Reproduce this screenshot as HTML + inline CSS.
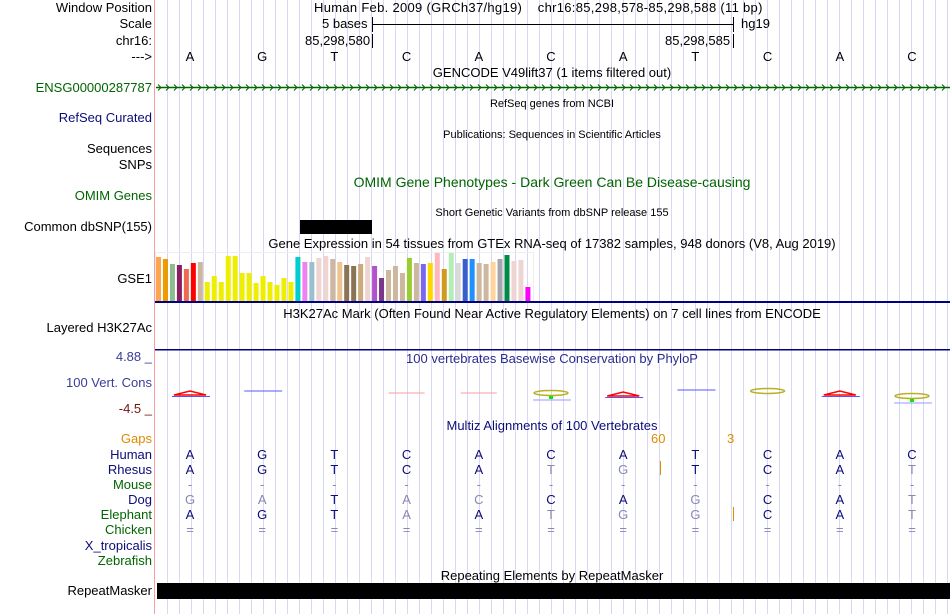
<!DOCTYPE html>
<html><head><meta charset="utf-8"><style>
body{margin:0;width:950px;height:614px;background:#fff;overflow:hidden;font-family:"Liberation Sans",sans-serif;font-size:13px;color:#000}
#root{position:relative;width:950px;height:614px}
.t{position:absolute;white-space:nowrap;line-height:14px}
.l{position:absolute;right:798px;white-space:nowrap;line-height:14px;text-align:right}
.c{transform:translateX(-50%)}
.s{font-size:11px}
svg{position:absolute;left:0;top:0}
</style></head><body>
<div id="root">
<svg id="grid" width="950" height="614"></svg>

<div class="l" style="top:1px">Window Position</div>
<div class="l" style="top:17px">Scale</div>
<div class="l" style="top:34px">chr16:</div>
<div class="l" style="top:50px">---&gt;</div>
<div class="l" style="top:81px;color:#006400">ENSG00000287787</div>
<div class="l" style="top:111px;color:#0c0c78">RefSeq Curated</div>
<div class="l" style="top:142px">Sequences</div>
<div class="l" style="top:158px">SNPs</div>
<div class="l" style="top:189px;color:#006400">OMIM Genes</div>
<div class="l" style="top:220px">Common dbSNP(155)</div>
<div class="l" style="top:272px">GSE1</div>
<div class="l" style="top:321px">Layered H3K27Ac</div>
<div class="l" style="top:350px;color:#3c3c9c">4.88 _</div>
<div class="l" style="top:376px;color:#3c3c9c">100 Vert. Cons</div>
<div class="l" style="top:402px;color:#7a1010">-4.5 _</div>
<div class="l" style="top:432px;color:#e08a00">Gaps</div>
<div class="l" style="top:448px;color:#0c0c78">Human</div>
<div class="l" style="top:463px;color:#0c0c78">Rhesus</div>
<div class="l" style="top:478px;color:#006400">Mouse</div>
<div class="l" style="top:493px;color:#0c0c78">Dog</div>
<div class="l" style="top:508px;color:#006400">Elephant</div>
<div class="l" style="top:523px;color:#006400">Chicken</div>
<div class="l" style="top:539px;color:#0c0c78">X_tropicalis</div>
<div class="l" style="top:554px;color:#006400">Zebrafish</div>
<div class="l" style="top:584px">RepeatMasker</div>

<div class="t" style="left:314px;top:1px;letter-spacing:0.3px">Human Feb. 2009 (GRCh37/hg19)&nbsp;&nbsp;&nbsp; chr16:85,298,578-85,298,588 (11 bp)</div>
<div class="t" style="left:322px;top:17px">5 bases</div>
<div class="t" style="left:741px;top:17px">hg19</div>
<div class="t" style="left:305px;top:34px">85,298,580</div>
<div class="t" style="left:665px;top:34px">85,298,585</div>
<div class="t c" style="left:552px;top:66px">GENCODE V49lift37 (1 items filtered out)</div>
<div class="t c s" style="left:552px;top:97px">RefSeq genes from NCBI</div>
<div class="t c s" style="left:552px;top:128px">Publications: Sequences in Scientific Articles</div>
<div class="t c" style="left:552px;top:175px;color:#006400;font-size:14px">OMIM Gene Phenotypes - Dark Green Can Be Disease-causing</div>
<div class="t c s" style="left:552px;top:206px">Short Genetic Variants from dbSNP release 155</div>
<div class="t c" style="left:552px;top:237px">Gene Expression in 54 tissues from GTEx RNA-seq of 17382 samples, 948 donors (V8, Aug 2019)</div>
<div class="t c" style="left:552px;top:307px">H3K27Ac Mark (Often Found Near Active Regulatory Elements) on 7 cell lines from ENCODE</div>
<div class="t c" style="left:552px;top:352px;color:#2c2c8c">100 vertebrates Basewise Conservation by PhyloP</div>
<div class="t c" style="left:552px;top:419px;color:#0c0c78">Multiz Alignments of 100 Vertebrates</div>
<div class="t c" style="left:552px;top:569px">Repeating Elements by RepeatMasker</div>
<div class="t" style="left:651px;top:432px;color:#e08a00">60</div>
<div class="t" style="left:727px;top:432px;color:#e08a00">3</div>
<div id="bases"></div>

<script>
const bases=["A","G","T","C","A","C","A","T","C","A","C"];
const gtexValues=[44,42,37,36,32,38,39,19,25,19,45,45,28,28,18,25,19,16,23,19,44,39,39,43,45,42,39,36,35,37,44,35,23,31,35,28,43,38,37,38,48,32,49,38,42,42,38,37,39,42,46,40,41,14];
const gtexColors=["#FFA54F","#EE9A00","#8FBC8F","#8B1C62","#EE6A50","#FF0000","#CDB79E","#EEEE00","#EEEE00","#EEEE00","#EEEE00","#EEEE00","#EEEE00","#EEEE00","#EEEE00","#EEEE00","#EEEE00","#EEEE00","#EEEE00","#EEEE00","#00CDCD","#EE82EE","#9AC0CD","#EED5D2","#EED5D2","#CDB79E","#EEC591","#8B7355","#8B7355","#CDAA7D","#EED5D2","#B452CD","#7A378B","#CDB79E","#CDB79E","#CDB79E","#9ACD32","#CDB79E","#7B68EE","#FFD700","#FFB6C1","#CD9B1D","#B4EEB4","#D9D9D9","#3A5FCD","#1E90FF","#CDB79E","#CDB79E","#FFD39B","#A6A6A6","#008B45","#EED5D2","#EED5D2","#FF00FF"];
const rows={Human:"AGTCACATCAC",Rhesus:"AGTCATGTCAT",Mouse:"-----------",Dog:"GATACCAGCAT",Elephant:"AGTAATGGCAT",Chicken:"==========="};
const gray={Rhesus:[5,6,10],Mouse:[0,1,2,3,4,5,6,7,8,9,10],Dog:[0,1,3,4,7,10],Elephant:[3,5,6,7,10],Chicken:[0,1,2,3,4,5,6,7,8,9,10]};
const rowY={Human:448,Rhesus:463,Mouse:478,Dog:493,Elephant:508,Chicken:523};
const x0=155,bw=72.2;
const bx=i=>190+bw*i;
const NS="http://www.w3.org/2000/svg";
const svg=document.getElementById('grid');
function mk(tag,attrs,name){const e=document.createElementNS(NS,tag);for(const k in attrs)e.setAttribute(k,attrs[k]);svg.appendChild(e);return e;}
for(let x=167;x<950;x+=12){const l=mk('line',{x1:x+.5,x2:x+.5,y1:0,y2:614,stroke:'#d8d8f4','stroke-width':1},'grid-line');}
mk('line',{x1:154.5,x2:154.5,y1:0,y2:614,stroke:'#f4a0a0'},'left-border');
mk('line',{x1:372,x2:733,y1:24.5,y2:24.5,stroke:'#000'},'scale-bar');
mk('line',{x1:372.5,x2:372.5,y1:17,y2:32,stroke:'#000'},'scale-tick-left');
mk('line',{x1:733.5,x2:733.5,y1:17,y2:32,stroke:'#000'},'scale-tick-right');
mk('line',{x1:372.5,x2:372.5,y1:34,y2:48,stroke:'#000'},'pos-tick-580');
mk('line',{x1:733.5,x2:733.5,y1:34,y2:48,stroke:'#000'},'pos-tick-585');
mk('line',{x1:156,x2:950,y1:87.5,y2:87.5,stroke:'#006400','stroke-width':1.5},'gene-line');
let d='';for(let x=158;x<950;x+=8){d+=`M${x} 84.5L${x+3} 87.5L${x} 90.5`;}
mk('path',{d:d,stroke:'#006400',fill:'none'},'gene-strand-arrows');
mk('rect',{x:300,y:220,width:72,height:14,fill:'#000'},'dbsnp-variant');
const base=301,scale=1.0;
gtexValues.forEach((v,i)=>{const r=mk('rect',{x:156+i*6.97,y:base-v*scale,width:5,height:v*scale,fill:gtexColors[i]},'gtex-bar');});
mk('rect',{x:155.5,y:252.5,width:378,height:49,fill:'none',stroke:'#eee'},'gtex-frame');
mk('rect',{x:155,y:301,width:795,height:2,fill:'#000080'},'gtex-baseline');
mk('rect',{x:155,y:349,width:795,height:1.5,fill:'#000080'},'h3k27ac-baseline');
mk('rect',{x:157,y:583,width:793,height:16,fill:'#000'},'repeat-element');
mk('line',{x1:660.5,x2:660.5,y1:461,y2:475,stroke:'#e08a00'},'gap-tick-rhesus');
mk('line',{x1:733.5,x2:733.5,y1:507,y2:521,stroke:'#e08a00'},'gap-tick-elephant');
const logos=[[0,'tri'],[1,'blue'],[3,'red'],[4,'red'],[5,'ring'],[6,'tri'],[7,'blue2'],[8,'ring2'],[9,'tri'],[10,'ring']];
const cy=[395,391,0,393,393,396,396,390,394,395,399];
logos.forEach(([i,t])=>{const x=bx(i),y=cy[i];
 if(t==='tri'){mk('path',{d:`M${x-16} ${y}L${x} ${y-4}L${x+16} ${y}Z`,fill:'none',stroke:'#f00','stroke-width':1.5},'logo-a');mk('line',{x1:x-18,x2:x+20,y1:y+1.5,y2:y+1.5,stroke:'#55f','stroke-width':1},'logo-base');}
 else if(t==='blue'||t==='blue2'){mk('line',{x1:x-18,x2:x+20,y1:y,y2:y,stroke:'#55f','stroke-width':1},'logo-base');}
 else if(t==='red'){mk('line',{x1:x-18,x2:x+18,y1:y,y2:y,stroke:'#f99','stroke-width':1},'logo-base');}
 else {mk('ellipse',{cx:x,cy:y-3,rx:17,ry:2.5,fill:'none',stroke:'#bbb020','stroke-width':1.5},'logo-c');if(t==='ring'){mk('rect',{x:x-2,y:y,width:4,height:3,fill:'#0e0'},'logo-g');mk('line',{x1:x-18,x2:x+20,y1:y+4,y2:y+4,stroke:'#99f'},'logo-base');}}
});
const bd=document.getElementById('bases');
function tx(txt,x,y,col,name){const e=document.createElement('div');e.className='t c';e.style.left=x+'px';e.style.top=y+'px';e.style.color=col;e.textContent=txt;bd.appendChild(e);}
bases.forEach((b,i)=>tx(b,bx(i),50,'#000','dna-base'));
for(const sp in rows){const s=rows[sp];for(let i=0;i<s.length;i++){const g=(gray[sp]||[]).includes(i);tx(s[i],bx(i),rowY[sp],g?'#8888b0':'#0c0c78',sp.toLowerCase()+'-base');}}
</script>
</div>
</body></html>
